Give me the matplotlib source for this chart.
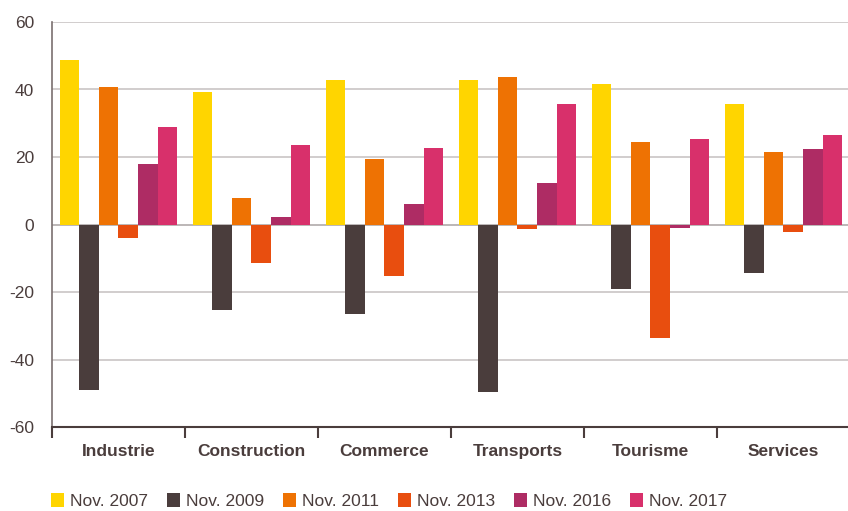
import matplotlib
matplotlib.use("Agg")
import matplotlib.pyplot as plt
import numpy as np

categories = ["Industrie", "Construction", "Commerce", "Transports", "Tourisme", "Services"]
series_names = ["Nov. 2007", "Nov. 2009", "Nov. 2011", "Nov. 2013", "Nov. 2016", "Nov. 2017"]
nov_2007 = [48.7, 39.2, 42.8, 42.8, 41.6, 35.6]
nov_2009 = [-48.9, -25.4, -26.6, -49.5, -19.2, -14.5]
nov_2011 = [40.7, 8.0, 19.3, 43.7, 24.4, 21.4]
nov_2013 = [-4.1, -11.3, -15.3, -1.2, -33.5, -2.3]
nov_2016 = [17.8, 2.1, 6.2, 12.2, -1.1, 22.3]
nov_2017 = [28.8, 23.5, 22.6, 35.6, 25.2, 26.4]
colors = ["#FFD500", "#4A3D3C", "#EE7203", "#E84E0F", "#AE2C64", "#D8306B"]
yticks = [-60, -40, -20, 0, 20, 40, 60]

series = [nov_2007, nov_2009, nov_2011, nov_2013, nov_2016, nov_2017]

plt.rcParams['font.family'] = ['Liberation Sans', 'DejaVu Sans']
fig = plt.figure(figsize=(8.48, 5.11), dpi=100)
ax = fig.add_axes([52/848, 1-427/511, 798/848, (427-22)/511])

x = np.arange(len(categories))
w = 0.147
for i, (vals, c, name) in enumerate(zip(series, colors, series_names)):
    ax.bar(x + (i - 2.5) * w, vals, width=w, color=c, label=name, zorder=3)

ax.set_ylim(-60, 60)
ax.set_xlim(-0.5, len(categories) - 0.5)
text_col = "#4A3D3C"
ax.set_yticks(yticks)
ax.set_yticklabels([str(v) for v in yticks], fontsize=12.5, color=text_col)
for v in yticks:
    if v == -60:
        continue
    ax.axhline(v, color="#C9C5C5" if v != 0 else "#B0AAAA", lw=1.2, zorder=1)
ax.tick_params(axis='y', length=0, pad=13)

ax.set_xticks(np.arange(len(categories) + 1) - 0.5)
ax.set_xticklabels([])
ax.tick_params(axis='x', which='major', length=8, width=1.5, color=text_col, direction='out')
ax.set_xticks(x, minor=True)
ax.set_xticklabels(categories, minor=True, fontsize=12.5, fontweight='bold', color=text_col)
ax.tick_params(axis='x', which='minor', length=0, pad=12)

for s in ["top", "right"]:
    ax.spines[s].set_visible(False)
ax.spines["left"].set_color("#7A7070")
ax.spines["left"].set_linewidth(1.2)
ax.spines["bottom"].set_color(text_col)
ax.spines["bottom"].set_linewidth(1.5)

handles, labels = ax.get_legend_handles_labels()
leg = fig.legend(handles, labels, loc="center left", bbox_to_anchor=(44/848, 1-501/511), ncol=6,
                 frameon=False, fontsize=12.5, handlelength=0.75, handleheight=0.9,
                 handletextpad=0.35, columnspacing=1.08, borderaxespad=0)
for t in leg.get_texts():
    t.set_color(text_col)

fig.savefig("out.png", dpi=100)
